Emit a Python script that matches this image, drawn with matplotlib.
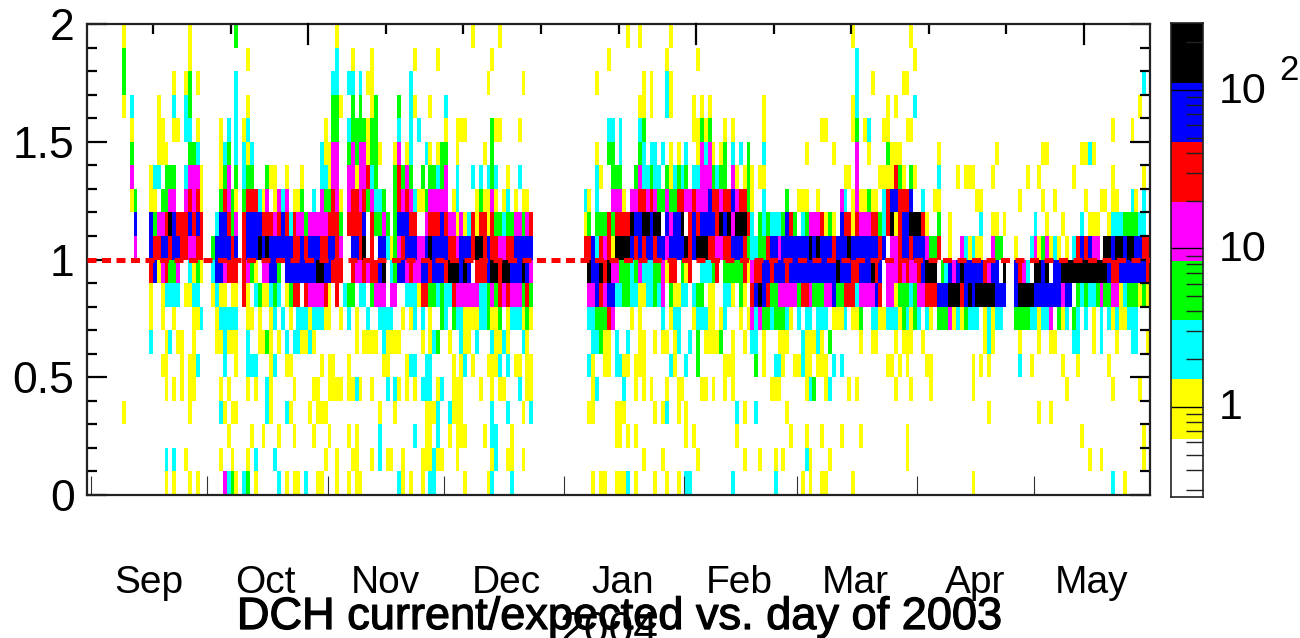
"""DCH current/expected vs. day, 2003-2004."""

import matplotlib

matplotlib.use("Agg")
import matplotlib.patheffects as pe
import matplotlib.pyplot as plt
import numpy as np
from matplotlib.colors import BoundaryNorm, ListedColormap
from matplotlib.ticker import FixedLocator, NullFormatter

plt.rcParams["font.family"] = ["Liberation Sans", "DejaVu Sans"]

N_DAYS = 274
N_ROWS = 20

# day bins per ratio row, top row first, written "day:level" or "first-last:level"
# levels: 1 yellow, 2 cyan, 3 green, 4 magenta, 5 red, 6 blue, 7 black
rows = [
    "9:1 26:1 38:3 64:1 99:1 106:1 139:1 142:1 150:1 197:1 212:1",
    "9:3 26:1 41:1 64:2 68:1 73:1 84:1 90:1 104:1 134:1 149:1 157:1 198:2 213:1",
    "9:3 22:1 25:1 26:3 28:1 38:2 63-64:2 67-68:2 70:2 72-73:1 83:2 103:1 112:1 131:1 143:1 145:1 149:2 150:1 198:2 "
    "202:1 210-211:1 272:2",
    "9:1 11:2 18:1 22:2 25:2 26:3 38:2 41:1 63-64:3 65:1 68:3 70:3 73:1 74:3 80:3 83:2 84:1 88:1 92:2 142-143:1 145:1 "
    "149:2 150:1 156:1 158:1 160:1 174:1 197:1 198:2 206:1 208:1 213:2 271:1",
    "11:1 18-19:1 22-23:1 25-26:2 28:1 34:1 36:2 38:2 40:1 41:2 61:1 63-64:3 67:2 68-71:3 72:1 73-74:3 80:2 83:2 85:2 "
    "92:1 95-97:1 104:3 105-106:1 111:1 134:2 135:2 137:2 142:2 143:3 156-157:1 158:3 159:1 160:3 164:1 166:1 174:1 "
    "189-190:1 197:1 198:3 200:1 201:2 205-206:1 211-212:1 264:1 269:1",
    "11:3 18-20:1 26-27:3 28:2 34:1 35:2 36:3 38:2 40:2 41:1 42:2 60:2 61-62:1 63-64:4 67:3 68:4 69:3 70-71:4 72:1 "
    "73-74:3 75:1 79:1 80:4 82:1 83:2 87:2 88:1 90:1 91-92:3 95:1 102:1 104:3 131:1 134:3 135:3 137:2 142:3 143:2 "
    "145-146:2 148:2 150:1 152:1 154:2 157:1 158:4 159:2 160:4 161:1 163:1 164:3 166:2 168:2 170:3 174:2 185:1 192:1 "
    "198:4 201:1 206:3 207-209:1 219:1 234:1 246-247:1 256-257:1 258:2 259:1",
    "11:4 16:1 17-18:2 20-22:3 25:2 26-28:4 29:1 34:1 35:3 36:4 38:3 40:2 41-42:3 46:3 47-48:1 51:1 55:1 60-61:2 62:1 "
    "63-64:4 67-68:4 69:1 70-71:4 72:5 73:2 74:3 79:3 80:5 81:3 82:4 83:3 86:3 88-89:3 90:2 91:3 92:4 95:2 99:2 101:2 "
    "103:2 104:3 105:2 108:1 111:2 131:2 132:1 135-136:3 137:3 141:3 142:4 143:2 144:2 145:3 146:2 147:2 149:3 150:1 "
    "151:2 152:3 153:2 154:3 156-157:2 158-160:4 161:3 162:2 163-164:3 166:4 167:1 169:1 170:3 171:1 173-174:1 "
    "195-196:1 198:4 204-205:1 206-207:1 208:5 209:3 210:1 212:3 213:1 219:2 224:1 226-228:1 233:1 242:1 245:1 254:1 "
    "264:1 272:1",
    "11:1 12:3 16-17:1 19-20:3 21-22:4 25:4 26:5 27:4 28:5 29:1 34:3 35:5 36:4 37:3 38:1 40:3 41-43:5 44:2 45:1 46:4 "
    "48:1 49:4 50:2 51:4 53-54:1 55:3 58:2 60:4 61-62:3 63:5 64:4 65:1 67:4 68-69:5 70:4 71:5 72:3 73:4 74-75:2 76:3 "
    "79:3 80:5 81:4 82:5 83:4 84:2 85-86:1 87:3 88-92:4 94:1 95:2 100:1 101:3 102-103:1 104:4 105:1 107:1 108:2 110:1 "
    "112-113:1 128:2 129:1 131:2 135-136:4 137:4 138:1 140-141:4 142-143:5 144:4 145:5 146:4 147-148:3 149:4 150-151:3 "
    "152-153:5 154-155:4 156:5 157-159:4 160:6 161-162:5 163:4 164-165:5 166:6 167:4 168-169:5 170:3 171:1 174:2 180:3 "
    "183-185:1 188:1 194:4 195:2 197:1 198:4 199-200:1 201:3 202-203:1 205:2 206:5 207-208:6 209-211:5 212:6 215:2 "
    "218-219:1 229-230:1 240:1 246:1 249:1 257:1 261-262:1 264-265:1 269:2 270:1 272:2",
    "12:6 16:6 17:3 18-19:4 20:5 21:7 22:6 23-25:5 26:6 27:5 28:6 29:5 33:2 34-35:6 36:5 37:3 38:4 40:5 41-44:6 45-47:5 "
    "48:4 49:5 50:6 51:5 52:2 53:5 54-55:4 56:3 57-61:4 62-64:5 65:3 67-70:5 71:6 73:5 74-75:3 76:4 77:3 79:3 80-82:6 "
    "83-84:5 85-86:0 87:4 88-90:5 91:6 92:5 93-94:4 95:1 96:4 97:1 98:2 99:5 100:1 101-102:5 103:1 104:5 105-106:3 "
    "107:2 108-109:3 110-111:4 112:3 113:4 114:5 128:1 129:3 131-133:3 134:5 135:3 136:5 137-139:5 140:7 141-142:6 "
    "143-144:7 145:6 146-147:7 149:6 150:4 151-152:6 153:7 155:5 156:6 157:5 158-161:6 162:5 163:7 164:6 165:7 166:4 "
    "167-169:7 170:5 171:2 173:3 174:2 175:3 176:2 177-178:2 179:3 180:6 181:5 182:3 184:2 185:3 186-188:4 189:5 190:1 "
    "191:3 192:1 194:6 195-196:5 197:1 198:5 199-201:4 202-203:5 204:3 205:2 206:5 207:7 208:1 209:5 210-211:6 "
    "212-214:7 215:5 216:1 219:3 222:1 230:2 233-234:1 236:1 244:2 247:1 251:1 256:2 258-260:1 263:1 264-266:2 "
    "267-270:3 271-272:2",
    "12:4 16:6 17-18:5 19-20:6 21:5 22-23:6 24-25:5 26-27:4 28-29:5 32:3 33-36:6 37:5 38:6 40:5 41-43:6 44:7 45:6 46:7 "
    "47-52:6 53-54:5 55:6 56:5 57-59:6 60-61:5 62-63:6 64:5 65:4 68-69:6 70:5 71:7 73:5 75-76:6 77:2 78:1 79:3 80:4 "
    "81:5 82-84:6 85-86:4 87:6 88:7 89-92:6 93-94:5 95:4 96-98:6 99:5 100-101:7 102:5 103:6 104-105:5 106-107:4 "
    "108-109:5 110-114:6 128-129:5 130:6 131:2 132:5 133:4 134:5 135:1 136:7 137-139:7 140:6 141:5 142:6 143:5 144-145:6 "
    "146:5 147-148:6 149:4 150-153:6 154:7 155:5 156:6 157-159:7 160-161:5 162-163:4 164-165:5 166-168:6 169:5 170:3 "
    "171-172:2 173-174:3 175:5 176-177:6 178:4 179-185:6 186:7 187:6 188:7 189-191:6 192:5 193-195:6 196:7 197-203:6 "
    "204:5 205:6 207-208:4 209:5 210-211:6 212:5 213-215:6 216:4 217-218:3 219:5 222:1 225:4 226:2 227:1 228:2 229-230:1 "
    "233:4 234-235:3 239:1 243:2 244:4 245:1 246:3 247:4 248:1 249:2 250:1 252:1 254:2 255:5 256:6 257:5 258:6 259-260:4 "
    "262-263:7 264:6 265-266:7 267:6 268-269:7 270-271:6 272-273:5",
    "16:5 17:6 18:1 19:4 20:5 21-22:3 23:4 26:2 27:1 28:3 29:1 32:2 33-34:6 35:4 36-38:5 40:5 41:4 42:3 43:1 45-46:4 "
    "47-48:6 49:3 51-58:6 59-60:7 61-62:6 63-64:5 65:5 68:5 69-70:4 71:5 72:4 73-74:5 75:6 76:7 78:2 79:3 80-81:6 82:4 "
    "83:5 84-85:4 86-87:6 88:5 89-91:6 92:5 93-95:7 96:6 97:7 98:6 100-102:5 103:6 104-105:7 106:5 107-108:7 109-111:6 "
    "112:7 113:6 114:4 129:7 130-131:6 132:7 133:5 134:7 135-136:4 137-139:3 140:2 141:3 142:4 143-145:2 146-147:3 "
    "148:4 149:1 150-151:5 153:3 154:1 155:5 158-160:2 161:3 162:5 164-168:3 169:5 170:1 171:4 172-173:5 174-175:6 "
    "176:5 177-179:6 180:5 181-192:6 193:7 194:6 195-196:6 197-198:5 199-201:6 202:7 203:5 204:6 206-208:4 209:5 210:4 "
    "211:5 212-213:4 214:5 215:6 216-218:7 220:3 221:2 222:6 223:4 224:6 225:7 226-230:6 231:5 232:4 233-234:6 "
    "236:7 239:6 240:5 241:4 242:2 244-245:7 246:6 247:7 249-250:6 251-262:7 263:6 264-265:5 266-272:6 273:5",
    "16:1 19:1 20-23:2 25-26:1 27-28:2 32:1 33:2 34-35:1 37-38:1 40:5 41:1 43:2 44:3 45-46:1 47:2 48:3 49:2 51:1 52:3 "
    "53-54:5 56:5 57-60:4 61:5 62:1 64:5 66:2 67-68:3 70-71:2 73:3 74-76:4 78-79:4 82-84:2 85:1 86-87:5 88-89:3 90:2 "
    "91:3 92-93:2 94:5 95-100:4 101-102:2 103:3 104:4 105:3 106:5 107:4 108:5 109-111:4 112:3 113:5 114:3 129-130:4 "
    "131:6 132:5 133:4 134:6 135:6 136-137:2 138-139:3 140-141:2 142-143:1 144-145:2 146:3 147:2 148:4 150:3 151-152:1 "
    "153-154:2 156:2 157-158:3 160-161:1 164-165:2 166:1 168:3 169:1 171:5 172:6 173:7 174:6 175:5 176-177:3 178-182:4 "
    "183:3 184-185:5 186:4 187-189:3 190-191:4 192:6 193-194:3 195-197:5 198:2 199-202:4 203:6 204:5 206-207:4 208:1 "
    "209-211:3 212:2 213:3 214-215:4 216-218:5 219-221:6 222-224:7 225:5 226:6 227:7 228:6 229-233:7 234-236:6 239:6 "
    "240-243:7 244-250:6 251:4 252-253:6 255:3 256:2 257:3 258-259:2 260:3 261:4 262-263:3 264-265:4 266:1 267:2 "
    "268-270:3 271:1 272:3 273:1",
    "16:1 19:1 22:1 27-28:1 29:2 33:1 34-38:2 41-42:1 44:1 47:1 48:2 50:2 52:1 54-56:2 57:1 58-60:2 61-62:1 65:1 67:2 "
    "69:1 72:2 75-78:2 81:1 83:1 84:2 86:2 88:1 91:3 92:2 94:3 95-96:2 97-100:1 101-102:2 103:3 104-105:1 106:3 108:1 "
    "109-111:2 112:1 113:3 114:1 129-130:2 131-133:3 134:5 135:4 140:1 142:1 148:2 150:1 151-152:2 156:1 157-159:2 "
    "160-161:1 163:1 164:2 168:1 170:1 171:4 172:2 173:4 174-175:3 176:2 177-179:3 180:2 181:1 183:2 185-186:2 "
    "188-190:2 192-194:1 195:2 197-198:1 199:3 202-203:2 204-205:1 206-208:2 209:1 210:3 211:2 212:1 213:3 214:2 216:2 "
    "217:1 219-221:3 222:4 223:1 224:2 225:1 226:3 227-229:2 231:1 232:2 233:1 234-235:2 239-242:3 243-244:2 245:1 "
    "246-247:2 248:4 250:3 251:1 252:2 254:3 255:2 257:2 259:1 261:2 263:2 264:1 265:2 266-267:1 268-270:2",
    "16:2 20:1 21:2 23-24:1 27:1 33-34:1 35:2 36-38:1 41:2 44-45:1 46:3 47:1 49:1 51:2 53-54:2 55-56:1 57:2 58:1 69:1 "
    "71-74:1 76:2 77-80:1 86:1 88:1 89:2 90:3 93:1 96:2 97-98:1 100:2 104:2 105-106:1 107:2 108:1 112:2 113:1 130-131:2 "
    "132:3 133-134:1 136:2 139:2 142-143:1 146:1 148-149:1 151:1 152:2 155:2 157:3 159-162:1 163:3 166:1 169:1 171-172:2 "
    "174:1 178-180:1 184:2 185-187:1 188:2 189:1 191:3 199:1 202-203:1 208:1 210-212:1 215:1 231:1 232:2 233:1 240:1 "
    "245:1 248-249:1 254-255:2 259:1 261:2 265:1 269-270:2 273:1",
    "19-20:1 24:1 26-27:1 28:2 35:2 38:1 41-43:2 47:1 48:2 51-52:1 60:1 62-63:1 67:1 76-77:1 82:1 83-84:2 87:2 88:2 94:1 "
    "96:1 97:2 99:1 103-105:1 106:2 108:2 110-111:1 113-114:1 129:2 130:1 133-134:1 136-137:2 138-139:1 141-143:1 150:2 "
    "151:1 154:2 157:3 164-166:1 172:3 174:1 177-178:2 179:1 182-183:1 184:2 185-186:1 188-190:1 192:2 194:2 206-207:1 "
    "209:1 211:1 216-217:1 228:1 230:1 232:1 240:2 243:1 251:1 255:1 263:1",
    "20:1 22:1 24:1 26-27:1 34:1 36:1 41:1 43:1 46:2 47:1 53:1 58-59:1 62-64:1 65:1 67-68:1 69:2 70:1 73:1 77:2 79:2 "
    "80:1 82:1 84:1 86-88:2 90:1 91:2 94-96:1 101:1 104:1 106-107:1 111:2 113-114:1 130:1 131:2 138:2 141:1 143:1 145:1 "
    "149:1 152-153:1 158-159:1 161:1 164:1 166:1 176-178:1 185:1 186:2 187:3 190:1 191:2 196:1 198:1 208:1 212:1 217:1 "
    "228:1 252:1 264:1 271:1",
    "9:1 26:1 34:2 35:1 37-38:1 46:2 47:1 51:2 52:1 57:1 59-61:1 75:1 79:1 87-89:1 90:2 93:2 94-96:1 104:2 108:2 112:1 "
    "114:2 129-130:1 136-137:1 138:1 146:1 148:1 149:2 152:1 154:1 167:2 169:1 172:2 180:1 232:1 245:1 248:1",
    "36:1 42:1 45:1 49:1 53:1 58:1 62:1 67:1 69:1 75:2 84:2 87:1 88:1 90:2 93:1 95-97:1 102:1 104-105:2 109:1 136-137:1 "
    "139:1 141:1 154:1 156:1 167:1 181:1 185:1 189:1 194:1 199:1 211:1 256:1 272:1",
    "20:2 22:2 25:1 34:1 37:1 41:1 43:2 48:2 61:1 64:1 68-69:1 73:1 75:2 77-78:1 81:1 86-88:1 89:2 90-91:1 95:1 104:1 "
    "105:2 108-109:1 112:1 143:1 148:1 157:1 169:1 173:1 177:1 179:1 185:2 186:1 191:1 211:1 258:1 261:1 272:1",
    "20:1 22:1 26:1 28:1 35:4 36:2 37:3 38:1 40:2 41:3 43:1 49:2 51:1 53-54:1 56:2 59-60:1 64:1 67:1 69-70:1 80:2 81:1 "
    "83:1 86:1 88-89:2 97:1 103:1 104:2 109:2 130:1 132-133:1 136-137:1 138:1 139:2 141:1 146:1 149:1 152:1 154-155:2 "
    "166:2 177:2 184:1 186:1 189-190:1 197:1 228:1 264:2 267:1",
]

# one count inside each colour band, band index is the level
level_counts = [0, 0.9, 2.3, 5.4, 12.8, 30, 72, 170]
band_edges = [0.27, 0.63, 1.49, 3.53, 8.33, 19.7, 46.7, 110, 264]
band_colors = ["white", "yellow", "cyan", "#00ff00", "magenta", "red", "blue", "black"]

month_labels = ["Sep", "Oct", "Nov", "Dec", "Jan", "Feb", "Mar", "Apr", "May"]
month_label_days = [16, 46, 77, 108, 138, 168, 198, 229, 259]
month_starts = [1, 31, 62, 92, 123, 154, 183, 214, 244]
top_ticks_short = [17, 37, 77, 97, 117, 137, 177, 197, 217, 237]
top_ticks_long = [57, 157, 257]
colorbar_minor = [0.3, 0.4, 0.5, 0.6, 0.7, 0.8, 0.9, 2, 3, 4, 5, 6, 7, 8, 9, 20, 30, 40, 50, 60, 70, 80, 90, 200]


def rows_to_grid():
    grid = np.zeros((N_ROWS, N_DAYS))
    for index, row in enumerate(rows):
        for token in row.split():
            days, level = token.split(":")
            first, _, last = days.partition("-")
            grid[N_ROWS - 1 - index, int(first) : int(last or first) + 1] = level_counts[int(level)]
    return grid


def px_axes(fig, left, top, right, bottom):
    width, height = fig.canvas.get_width_height()
    return fig.add_axes([left / width, 1 - bottom / height, (right - left) / width, (bottom - top) / height])


def main():
    fig = plt.figure(figsize=(13, 6.38), dpi=100)
    ax = px_axes(fig, 87, 24, 1150, 495)

    cmap = ListedColormap(band_colors[1:])
    cmap.set_under("white")
    norm = BoundaryNorm(band_edges[1:], cmap.N)
    days = np.arange(N_DAYS + 1)
    ratios = np.linspace(0, 2, N_ROWS + 1)
    ax.pcolormesh(days, ratios, rows_to_grid(), cmap=cmap, norm=norm, rasterized=True)
    ax.plot([0, N_DAYS], [1, 1], color="red", lw=3.6, dashes=(1.8, 1.1), dash_capstyle="butt", zorder=3)

    ax.set_xlim(0, N_DAYS)
    ax.set_ylim(0, 2)
    ax.set_yticks([0, 0.5, 1, 1.5, 2], ["0", "0.5", "1", "1.5", "2"])
    ax.yaxis.set_minor_locator(FixedLocator(np.arange(0, 2.01, 0.1)))
    ax.tick_params(axis="y", which="major", direction="in", length=14.4, width=1.6, left=True, right=True, pad=9, labelsize=32)
    ax.tick_params(axis="y", which="minor", direction="in", length=7.2, width=1.6, left=True, right=True)
    ax.set_xticks(month_starts, [""] * len(month_starts))
    ax.set_xticks(top_ticks_short, minor=True)
    ax.tick_params(axis="x", which="major", direction="in", length=14, width=0.8, color="#333333", bottom=True, top=False)
    ax.tick_params(axis="x", which="minor", direction="in", length=7.2, width=1.6, bottom=False, top=True)
    for day in top_ticks_long:
        ax.plot([day, day], [2, 2 - 20 / 235.5], color="black", lw=1.6, clip_on=False, zorder=4)
    for spine in ax.spines.values():
        spine.set_linewidth(1.6)
        spine.set_color("#222222")

    label_trans = ax.get_xaxis_transform()
    for day, label in zip(month_label_days, month_labels):
        ax.annotate(label, (day, 0), xycoords=label_trans, xytext=(0, -88 * 0.72), textcoords="offset points",
                    ha="center", va="center", fontsize=28)

    cax = px_axes(fig, 1171, 23, 1203, 497)
    cax.pcolormesh([0, 1], band_edges, np.array(level_counts[:8]).reshape(-1, 1), cmap=cmap, norm=norm)
    cax.set_yscale("log")
    cax.set_ylim(band_edges[0], band_edges[-1])
    cax.set_xlim(0, 1)
    cax.set_xticks([])
    cax.yaxis.set_major_locator(FixedLocator([1, 10, 100]))
    cax.yaxis.set_minor_locator(FixedLocator(colorbar_minor))
    cax.yaxis.set_major_formatter(NullFormatter())
    cax.yaxis.set_minor_formatter(NullFormatter())
    cax.tick_params(axis="y", which="major", direction="in", length=23, width=1, left=False, right=True)
    cax.tick_params(axis="y", which="minor", direction="in", length=12, width=1, left=False, right=True, color="#222222")
    for spine in cax.spines.values():
        spine.set_linewidth(1.2)
        spine.set_color("#222222")

    width, height = fig.canvas.get_width_height()
    fig.text(1219 / width, 1 - 92 / height, "10", fontsize=31, va="center", ha="left")
    fig.text(1279 / width, 1 - 71 / height, "2", fontsize=25, va="center", ha="left")
    fig.text(1219 / width, 1 - 250 / height, "10", fontsize=31, va="center", ha="left")
    fig.text(1219 / width, 1 - 408 / height, "1", fontsize=31, va="center", ha="left")

    fig.text(619 / width, 1 - 629 / height, "DCH current/expected vs. day of 2003", fontsize=32.5, ha="center", va="baseline",
             path_effects=[pe.withStroke(linewidth=0.9, foreground="black")])
    fig.text(609 / width, 1 - 643 / height, "2004", fontsize=32, ha="center", va="baseline")

    fig.savefig("out.png", dpi=100)
    plt.close(fig)


if __name__ == "__main__":
    main()
